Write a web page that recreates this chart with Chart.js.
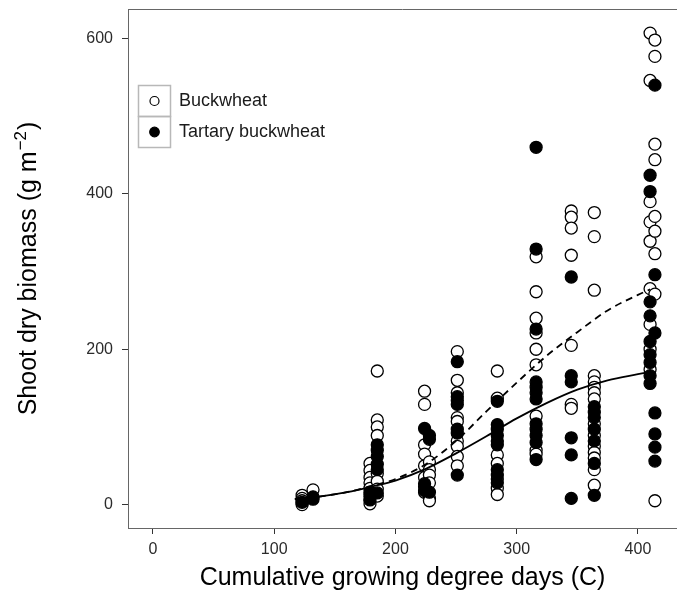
<!DOCTYPE html>
<html><head><meta charset="utf-8">
<script src="https://cdn.jsdelivr.net/npm/chart.js@4.4.1/dist/chart.umd.min.js"></script>
<style>html,body{margin:0;padding:0;background:#fff;overflow:hidden}canvas{display:block}</style>
</head><body>
<canvas id="c" width="677" height="597"></canvas>
<script>
// ---- data ----
const gddDates = [123, 132, 179, 185, 224, 228, 251, 284, 316, 345, 364, 410, 414];
const buckwheatByDate = [
  [12, 8, 5, 2, 0],
  [19],
  [53, 44, 35, 28, 21, 13, 6, 1],
  [172, 109, 100, 89, 40, 30, 20, 11],
  [146, 129, 77, 65, 50, 35, 23, 16],
  [55, 45, 38, 28, 8, 5],
  [197, 160, 144, 112, 107, 82, 75, 62, 50],
  [172, 137, 64, 53, 33, 21, 13],
  [319, 274, 240, 221, 200, 180, 114, 70, 65],
  [378, 370, 356, 321, 205, 129, 124],
  [376, 345, 276, 166, 158, 151, 144, 136, 104, 89, 75, 67, 60, 45, 25],
  [607, 546, 390, 364, 339, 278, 232, 200, 174],
  [598, 577, 464, 444, 371, 352, 323, 271, 5]
];
const tartaryByDate = [
  [3],
  [7, 10],
  [16, 10, 6],
  [77, 70, 62, 52, 45, 15],
  [98, 27, 18],
  [89, 84, 16],
  [184, 139, 134, 129, 97, 92, 38],
  [133, 103, 97, 89, 82, 77, 45, 38, 28],
  [460, 329, 226, 158, 151, 144, 136, 104, 97, 89, 80, 58],
  [293, 166, 158, 86, 64, 8],
  [126, 119, 112, 97, 82, 53, 12],
  [424, 403, 261, 243, 210, 193, 183, 166, 156],
  [540, 296, 221, 118, 91, 74, 56]
];
const fitX = [117, 140, 160, 180, 200, 225, 250, 275, 300, 325, 350, 375, 400, 410];
const buckwheatFit = [7, 11, 16, 24, 33, 52, 82, 120, 157, 192, 222, 250, 270, 277];
const tartaryFit = [7, 11, 16, 23, 31, 46, 66, 88, 111, 131, 148, 160, 168, 171];
const xTicks = [0, 100, 200, 300, 400];
const yTicks = [0, 200, 400, 600];
const seriesNames = ['Buckwheat', 'Tartary buckwheat'];
const xTitle = 'Cumulative growing degree days (C)';
const yTitleMain = 'Shoot dry biomass (g m';
const yTitleSup = '\u22122';
const yTitleEnd = ')';

// ---- build ----
function pts(byDate) {
  const out = [];
  byDate.forEach((vals, i) => vals.forEach(v => out.push({x: gddDates[i], y: v})));
  return out;
}
function line(ys) { return fitX.map((x, i) => ({x: x, y: ys[i]})); }

const FONT = '"Liberation Sans", Arial, Helvetica, sans-serif';

const extras = {
  id: 'extras',
  afterDraw(chart) {
    const ctx = chart.ctx, ca = chart.chartArea;
    ctx.save();
    // top panel border
    ctx.strokeStyle = '#666'; ctx.lineWidth = 1;
    ctx.beginPath(); ctx.moveTo(ca.left, ca.top + 0.5); ctx.lineTo(ca.right, ca.top + 0.5); ctx.stroke();

    // y title with superscript
    ctx.save();
    ctx.translate(36, (ca.top + ca.bottom) / 2);
    ctx.rotate(-Math.PI / 2);
    ctx.fillStyle = '#000'; ctx.textBaseline = 'alphabetic'; ctx.textAlign = 'left';
    const fMain = '25px ' + FONT, fSup = '17px ' + FONT;
    ctx.font = fMain; const wa = ctx.measureText(yTitleMain).width;
    ctx.font = fSup; const ws = ctx.measureText(yTitleSup).width;
    ctx.font = fMain; const wc = ctx.measureText(yTitleEnd).width;
    const x0 = -(wa + ws + wc + 2) / 2;
    ctx.fillText(yTitleMain, x0, 0);
    ctx.font = fSup; ctx.fillText(yTitleSup, x0 + wa + 1, -10);
    ctx.font = fMain; ctx.fillText(yTitleEnd, x0 + wa + ws + 2, 0);
    ctx.restore();

    // legend
    const lx = 138.5, ly = 85.5, lw = 32, lh = 31;
    ctx.strokeStyle = '#b8b8b8'; ctx.lineWidth = 1.5;
    ctx.fillStyle = '#fff';
    ctx.fillRect(lx, ly, lw, lh * 2);
    ctx.strokeRect(lx, ly, lw, lh);
    ctx.strokeRect(lx, ly + lh, lw, lh);
    const cx = lx + lw / 2;
    ctx.lineWidth = 1.2; ctx.strokeStyle = '#000';
    ctx.beginPath(); ctx.arc(cx, ly + lh / 2, 4.5, 0, Math.PI * 2);
    ctx.fillStyle = '#fff'; ctx.fill(); ctx.stroke();
    ctx.beginPath(); ctx.arc(cx, ly + lh * 1.5, 4.8, 0, Math.PI * 2);
    ctx.fillStyle = '#000'; ctx.fill(); ctx.stroke();
    ctx.font = '18px ' + FONT; ctx.fillStyle = '#1a1a1a';
    ctx.textBaseline = 'middle'; ctx.textAlign = 'left';
    ctx.fillText(seriesNames[0], 179, ly + lh / 2);
    ctx.fillText(seriesNames[1], 179, ly + lh * 1.5);
    ctx.restore();
  }
};

new Chart(document.getElementById('c'), {
  type: 'scatter',
  data: {
    datasets: [
      {type: 'line', data: line(tartaryFit), borderColor: '#000', borderWidth: 1.8,
       pointRadius: 0, fill: false, cubicInterpolationMode: 'monotone', order: 0},
      {type: 'line', data: line(buckwheatFit), borderColor: '#000', borderWidth: 1.8,
       borderDash: [7, 5], pointRadius: 0, fill: false, cubicInterpolationMode: 'monotone', order: 0},
      {label: seriesNames[1], data: pts(tartaryByDate), backgroundColor: '#000', borderColor: '#000',
       pointRadius: 6, pointBorderWidth: 1.3, order: 1},
      {label: seriesNames[0], data: pts(buckwheatByDate), backgroundColor: '#fff', borderColor: '#000',
       pointRadius: 6, pointBorderWidth: 1.3, order: 2}
    ]
  },
  options: {
    responsive: false, animation: false, devicePixelRatio: 1,
    layout: {autoPadding: false, padding: {left: 0, right: 0, top: 9, bottom: 0}},
    plugins: {legend: {display: false}, tooltip: {enabled: false}},
    scales: {
      x: {
        type: 'linear', min: -20.6, max: 432.2,
        afterBuildTicks: s => { s.ticks = xTicks.map(v => ({value: v})); },
        afterFit: s => { s.height = 69; s.paddingLeft = 0; s.paddingRight = 0; },
        grid: {drawOnChartArea: false, drawTicks: true, tickLength: 6, tickColor: '#333', tickWidth: 1},
        border: {display: true, color: '#666', width: 1},
        ticks: {padding: 6, color: '#2b2b2b', font: {family: FONT, size: 16}, maxRotation: 0},
        title: {display: true, text: xTitle, color: '#000', font: {family: FONT, size: 25},
                padding: {top: 0, bottom: 4}}
      },
      y: {
        type: 'linear', min: -30.1, max: 638.0,
        afterBuildTicks: s => { s.ticks = yTicks.map(v => ({value: v})); },
        afterFit: s => { s.width = 128; s.paddingTop = 0; s.paddingBottom = 0; },
        grid: {drawOnChartArea: false, drawTicks: true, tickLength: 6, tickColor: '#333', tickWidth: 1},
        border: {display: true, color: '#666', width: 1},
        ticks: {padding: 9, color: '#2b2b2b', font: {family: FONT, size: 16}},
        title: {display: false}
      }
    }
  },
  plugins: [extras]
});
</script>
</body></html>
